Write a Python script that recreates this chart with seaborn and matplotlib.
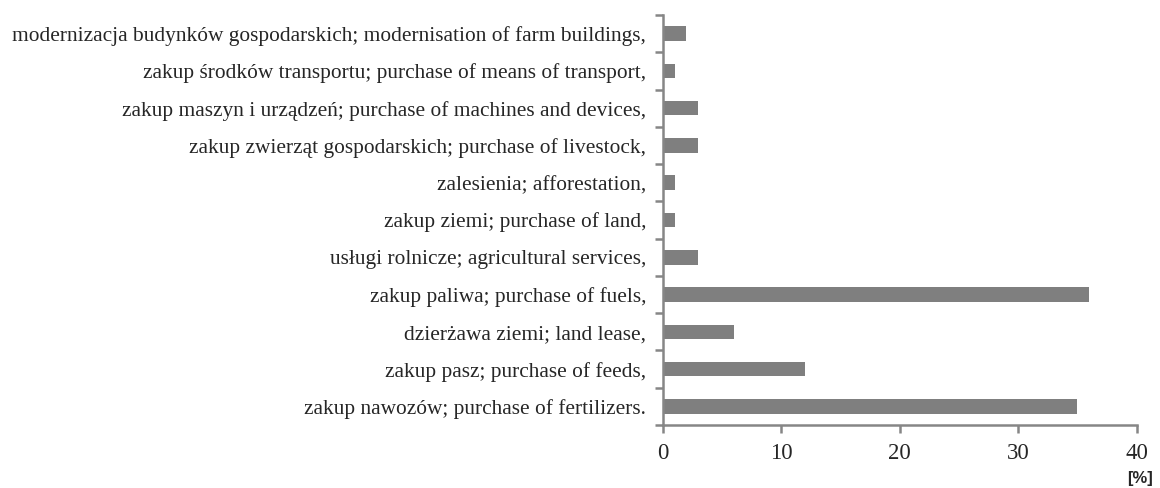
import numpy as np
import matplotlib
matplotlib.use('Agg')
import matplotlib.pyplot as plt
import seaborn as sns

# --- Data (top to bottom, as in the chart) ---
categories = [
    'modernizacja budynków gospodarskich; modernisation of farm buildings,',
    'zakup środków transportu; purchase of means of transport,',
    'zakup maszyn i urządzeń; purchase of machines and devices,',
    'zakup zwierząt gospodarskich; purchase of livestock,',
    'zalesienia; afforestation,',
    'zakup ziemi; purchase of land,',
    'usługi rolnicze; agricultural services,',
    'zakup paliwa; purchase of fuels,',
    'dzierżawa ziemi; land lease,',
    'zakup pasz; purchase of feeds,',
    'zakup nawozów; purchase of fertilizers.',
]
shares = [2, 1, 3, 3, 1, 1, 3, 36, 6, 12, 35]
x_ticks = [0, 10, 20, 30, 40]

sns.set_style('white')
plt.rcParams['font.family'] = ['Liberation Serif', 'DejaVu Serif']

axis_grey = '#868686'
bar_grey = '#7f7f7f'

fig = plt.figure(figsize=(11.6, 4.88), dpi=100)
ax = fig.add_axes([0.5713, 0.1291, 0.4086, 0.8402])

sns.barplot(x=shares, y=categories, orient='h', color=bar_grey,
            width=0.39, saturation=1, linewidth=0, edgecolor='none', ax=ax)

ax.set_xlim(0, 40)
ax.set_ylim(len(categories) - 0.5, -0.5)
ax.set_xticks(x_ticks)
ax.set_xticklabels([str(t) for t in x_ticks])
ax.set_yticks(np.arange(-0.5, len(categories), 1), minor=True)

for side in ['top', 'right']:
    ax.spines[side].set_visible(False)
for side in ['left', 'bottom']:
    ax.spines[side].set_color(axis_grey)
    ax.spines[side].set_linewidth(1.8)

ax.tick_params(axis='y', which='major', left=True, length=0, pad=12,
               labelsize=15.4)
ax.tick_params(axis='y', which='minor', left=True, length=6, width=1.8,
               color=axis_grey, direction='out')
ax.tick_params(axis='x', which='major', bottom=True, length=6, width=1.8,
               color=axis_grey, direction='out', pad=7, labelsize=16.5)
ax.set_xlabel('')
ax.set_ylabel('')

fig.text(0.9935, 0.004, '[%]', ha='right', va='bottom', fontsize=12,
         fontweight='bold', family=['Liberation Sans', 'DejaVu Sans'])

fig.savefig('out.png', dpi=100)
